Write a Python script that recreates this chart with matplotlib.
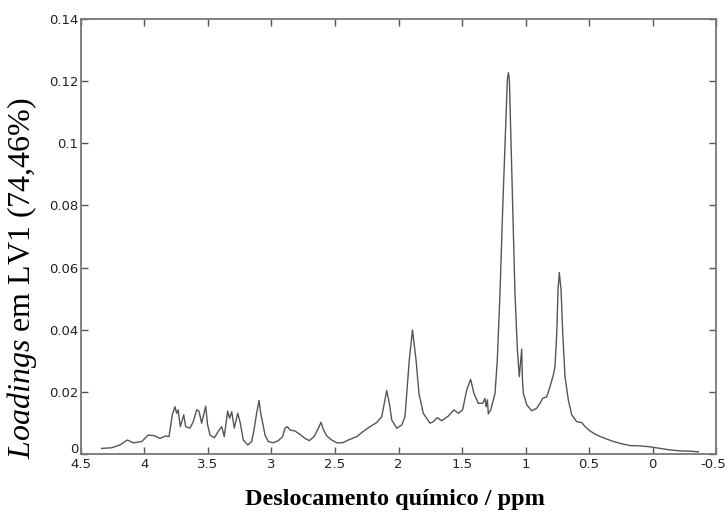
import matplotlib
matplotlib.use("Agg")
import matplotlib.pyplot as plt
import matplotlib.transforms as mtransforms
import numpy as np

# Italic part of the y label must be in the same serif family.
plt.rcParams["mathtext.fontset"] = "custom"
plt.rcParams["mathtext.it"] = "Liberation Serif:italic"
plt.rcParams["mathtext.rm"] = "Liberation Serif"

# Chemical shift (ppm) and loadings on LV1.
ppm = [4.337, 4.258, 4.193, 4.135, 4.088, 4.022, 3.970, 3.923, 3.878, 3.833,
       3.807, 3.781, 3.760, 3.747, 3.735, 3.718, 3.691, 3.676, 3.642, 3.616,
       3.589, 3.571, 3.550, 3.518, 3.503, 3.484, 3.450, 3.413, 3.392, 3.372,
       3.345, 3.330, 3.313, 3.293, 3.266, 3.248, 3.222, 3.187, 3.156, 3.138,
       3.117, 3.098, 3.085, 3.069, 3.051, 3.025, 2.986, 2.946, 2.912, 2.894,
       2.875, 2.854, 2.815, 2.776, 2.736, 2.702, 2.665, 2.631, 2.610, 2.592,
       2.565, 2.526, 2.487, 2.440, 2.395, 2.329, 2.264, 2.224, 2.172, 2.132,
       2.112, 2.093, 2.072, 2.053, 2.014, 1.975, 1.949, 1.935, 1.915, 1.890,
       1.862, 1.839, 1.805, 1.752, 1.726, 1.694, 1.660, 1.608, 1.563, 1.529,
       1.495, 1.463, 1.432, 1.406, 1.372, 1.337, 1.319, 1.310, 1.300, 1.293,
       1.274, 1.240, 1.222, 1.201, 1.180, 1.161, 1.143, 1.135, 1.127, 1.114,
       1.101, 1.083, 1.064, 1.049, 1.030, 1.024, 1.017, 0.990, 0.951, 0.912,
       0.886, 0.865, 0.833, 0.807, 0.781, 0.768, 0.754, 0.744, 0.734, 0.720,
       0.707, 0.689, 0.663, 0.636, 0.597, 0.557, 0.531, 0.492, 0.439, 0.387,
       0.321, 0.255, 0.177, 0.098, 0.020, -0.059, -0.138, -0.217, -0.295, -0.361]

loadings = [0.0018, 0.0020, 0.0029, 0.0045, 0.0036, 0.0040, 0.0061, 0.0059, 0.0050, 0.0058,
            0.0056, 0.0126, 0.0152, 0.0131, 0.0142, 0.0088, 0.0126, 0.0088, 0.0083, 0.0104,
            0.0142, 0.0138, 0.0099, 0.0154, 0.0093, 0.0061, 0.0052, 0.0077, 0.0088, 0.0056,
            0.0138, 0.0115, 0.0136, 0.0083, 0.0131, 0.0104, 0.0045, 0.0029, 0.0040, 0.0077,
            0.0131, 0.0172, 0.0131, 0.0099, 0.0061, 0.0040, 0.0036, 0.0043, 0.0056, 0.0083,
            0.0088, 0.0077, 0.0074, 0.0063, 0.0050, 0.0043, 0.0056, 0.0083, 0.0102, 0.0079,
            0.0058, 0.0045, 0.0036, 0.0036, 0.0045, 0.0056, 0.0077, 0.0088, 0.0101, 0.0120,
            0.0163, 0.0204, 0.0163, 0.0109, 0.0083, 0.0093, 0.0120, 0.0195, 0.0303, 0.0399,
            0.0303, 0.0195, 0.0131, 0.0099, 0.0104, 0.0117, 0.0107, 0.0122, 0.0142, 0.0131,
            0.0142, 0.0206, 0.0240, 0.0195, 0.0163, 0.0163, 0.0179, 0.0152, 0.0174, 0.0129,
            0.0142, 0.0195, 0.0303, 0.0517, 0.0785, 0.1000, 0.1204, 0.1227, 0.1204, 0.1000,
            0.0785, 0.0517, 0.0335, 0.0249, 0.0337, 0.0238, 0.0195, 0.0158, 0.0139, 0.0147,
            0.0163, 0.0179, 0.0184, 0.0217, 0.0254, 0.0281, 0.0388, 0.0528, 0.0584, 0.0528,
            0.0388, 0.0249, 0.0174, 0.0126, 0.0104, 0.0101, 0.0088, 0.0074, 0.0061, 0.0052,
            0.0042, 0.0034, 0.0027, 0.0026, 0.0023, 0.0018, 0.0013, 0.0010, 0.0009, 0.0007]

xticks = [4.5, 4, 3.5, 3, 2.5, 2, 1.5, 1, 0.5, 0, -0.5]
xtick_labels = ["4.5", "4", "3.5", "3", "2.5", "2", "1.5", "1", "0.5", "0", "-0.5"]
yticks = [0, 0.02, 0.04, 0.06, 0.08, 0.1, 0.12, 0.14]
ytick_labels = ["0", "0.02", "0.04", "0.06", "0.08", "0.1", "0.12", "0.14"]

fig = plt.figure(figsize=(7.27, 5.16), dpi=100)
ax = fig.add_axes([0.1114, 0.1202, 0.8735, 0.843])

ax.plot(ppm, loadings, color="#555555", linewidth=1.0)

# MATLAB-like frame: reversed ppm axis, ticks inside on all sides.
ax.set_xlim(4.5, -0.5)
ax.set_ylim(0, 0.14)
ax.set_xticks(xticks)
ax.set_xticklabels(xtick_labels)
ax.set_yticks(yticks)
ax.set_yticklabels(ytick_labels)
ax.tick_params(direction="in", length=5, width=1, color="#555555",
               top=True, right=True, labelsize=9.5, pad=2)
ax.tick_params(axis="x", pad=3)
for lab in ax.get_xticklabels() + ax.get_yticklabels():
    lab.set_fontfamily("DejaVu Sans")
    lab.set_color("#222222")
for s in ax.spines.values():
    s.set_color("#777777")
    s.set_linewidth(1.3)

# keep "-0.5" inside the figure and lift the "0" off the "4.5"
last = ax.get_xticklabels()[-1]
last.set_horizontalalignment("right")
last.set_transform(last.get_transform() + mtransforms.ScaledTranslation(0.10, 0, fig.dpi_scale_trans))
zero = ax.get_yticklabels()[0]
zero.set_transform(zero.get_transform() + mtransforms.ScaledTranslation(0, 0.06, fig.dpi_scale_trans))

fig.text(0.030, 0.462,
         r"$\mathit{Loadings}$" + " em LV1 (74,46%)",
         rotation=90, ha="center", va="center",
         fontsize=23, family="Liberation Serif")
fig.text(0.543, 0.032, "Deslocamento químico / ppm",
         ha="center", va="center", fontsize=17.5, fontweight="bold",
         family="Liberation Serif")

fig.savefig("out.png", dpi=100, facecolor="white")
